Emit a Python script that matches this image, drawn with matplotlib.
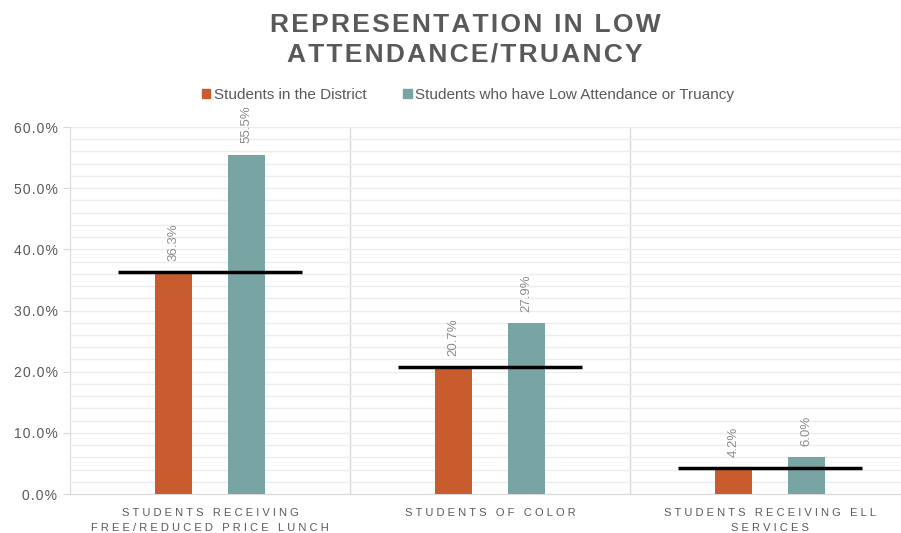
import matplotlib

matplotlib.use("Agg")
import matplotlib.pyplot as plt
from matplotlib.patches import Patch
from matplotlib.ticker import FuncFormatter, MultipleLocator

plt.rcParams["font.family"] = ["Liberation Sans", "DejaVu Sans"]

# %%
categories = [
    "STUDENTS RECEIVING\nFREE/REDUCED PRICE LUNCH",
    "STUDENTS OF COLOR",
    "STUDENTS RECEIVING ELL\nSERVICES",
]
district = [36.3, 20.7, 4.2]
low_attendance = [55.5, 27.9, 6.0]
series_names = ["Students in the District", "Students who have Low Attendance or Truancy"]
title_lines = ["REPRESENTATION IN LOW", "ATTENDANCE/TRUANCY"]

orange = "#C95C2E"
teal = "#78A5A3"
grey_text = "#595959"
label_grey = "#8C8C8C"


def track(s, gap):
    # poor man's letter spacing: pad every character with narrow spaces
    return "\n".join(gap.join(line) for line in s.split("\n"))


# %%
fig = plt.figure(figsize=(9.01, 5.33), dpi=100)
ax = fig.add_axes([70 / 901, 39 / 533, 840 / 901, 367 / 533])

x = list(range(len(categories)))
bw = 0.132
off = 0.13
bars_d = ax.bar([i - off for i in x], district, width=bw, color=orange, zorder=3)
bars_l = ax.bar([i + off for i in x], low_attendance, width=bw, color=teal, zorder=3)

for bars, vals in ((bars_d, district), (bars_l, low_attendance)):
    for b, v in zip(bars, vals):
        ax.annotate(f"{v:.1f}%", (b.get_x() + b.get_width() / 2, v),
                    xytext=(0, 8), textcoords="offset points",
                    rotation=90, ha="center", va="bottom",
                    fontsize=9.5, color=label_grey)

# district reference line across each group
for i, v in zip(x, district):
    ax.hlines(v, i - 0.33, i + 0.33, color="black", linewidth=2.5, zorder=4)

ax.set_xlim(-0.5, len(categories) - 0.5)
ax.set_ylim(0, 60)
ax.yaxis.set_major_locator(MultipleLocator(10))
ax.yaxis.set_minor_locator(MultipleLocator(2))
ax.yaxis.set_major_formatter(FuncFormatter(lambda v, _: track(f"{v:.1f}%", "\u200a")))
ax.grid(axis="y", which="both", color="#EDEDED", linewidth=1, zorder=0)
for sep in (0.5, 1.5):
    ax.axvline(sep, color="#D9D9D9", linewidth=1, zorder=1)

ax.set_xticks(x)
ax.set_xticklabels([track(c, "\u2009\u200a") for c in categories],
                   fontsize=8, color=grey_text, linespacing=1.6)
ax.tick_params(axis="x", length=0, pad=10)
ax.tick_params(axis="y", which="major", length=5, color="#D9D9D9",
               labelsize=10, labelcolor=grey_text, pad=4)
ax.tick_params(axis="y", which="minor", length=0)

for side in ("top", "right"):
    ax.spines[side].set_visible(False)
for side in ("left", "bottom"):
    ax.spines[side].set_color("#D9D9D9")

for k, line in enumerate(title_lines):
    fig.text(465 / 901, 1 - (25 + 29 * k) / 533, track(line, "\u200a"),
             ha="center", va="center",
             fontsize=19, fontweight="bold", color=grey_text)

handles = [Patch(color=orange), Patch(color=teal)]
fig.legend(handles, series_names, loc="center", bbox_to_anchor=(468 / 901, 1 - 95 / 533),
           ncol=2, frameon=False, fontsize=11, labelcolor=grey_text,
           handlelength=0.55, handleheight=0.55, handletextpad=0.25, columnspacing=2.4)

fig.savefig("out.png", dpi=100)
